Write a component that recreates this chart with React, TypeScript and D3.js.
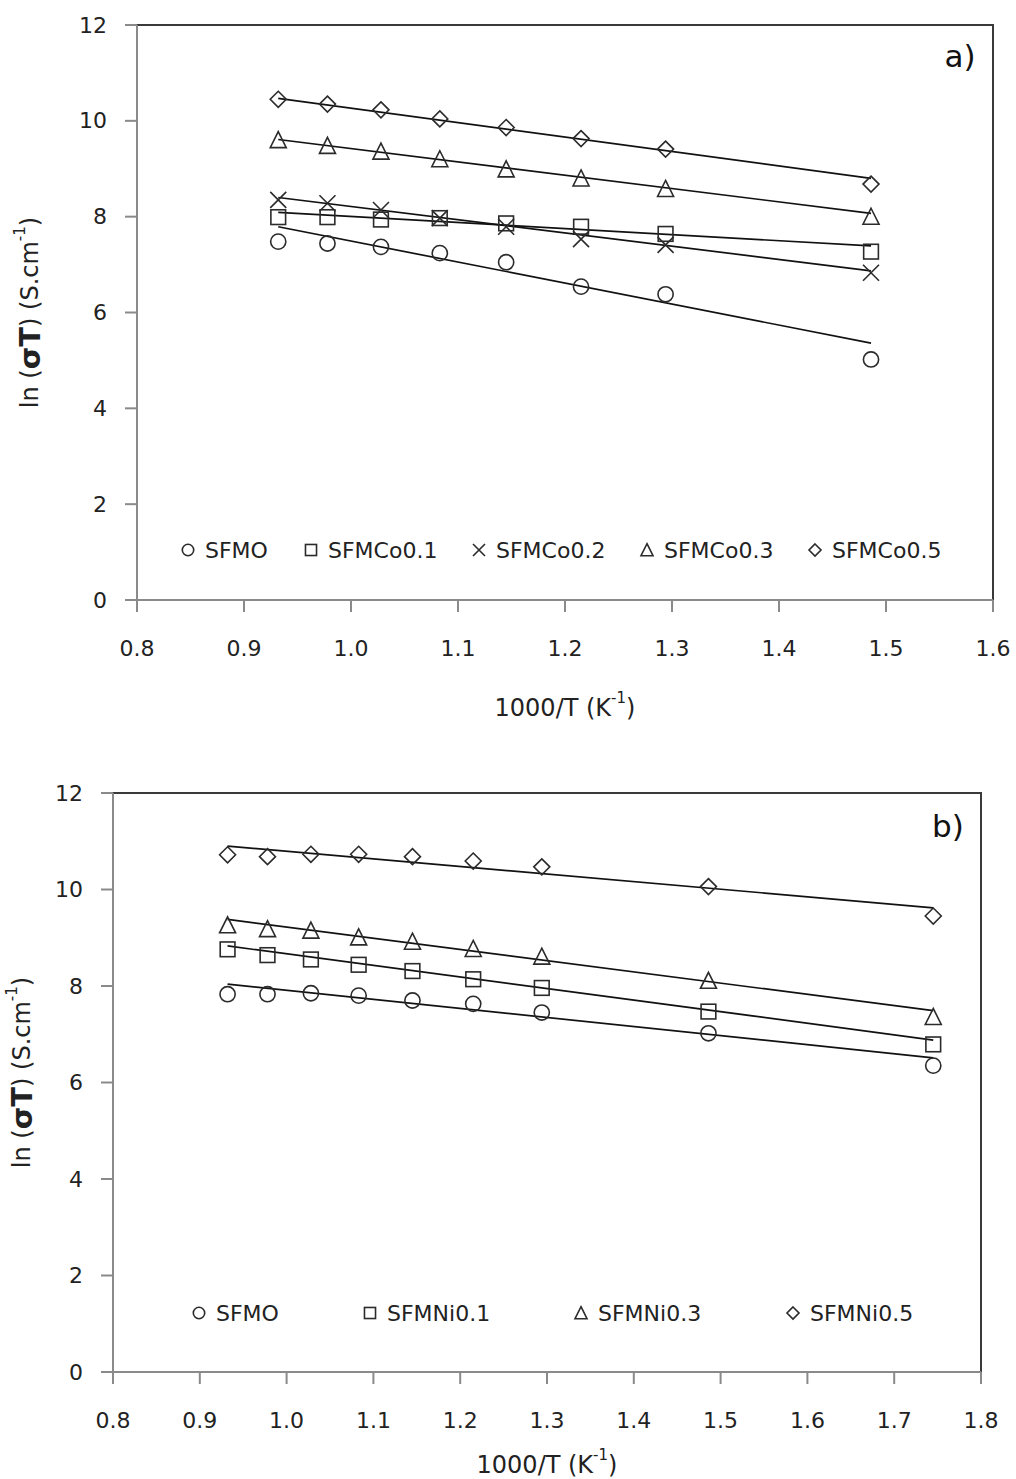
import React from "react";
import * as d3 from "d3";

// ---------- Data: panel a) ----------
const xA = [0.932, 0.978, 1.028, 1.083, 1.145, 1.215, 1.294, 1.486];
const seriesNamesA = ["SFMO", "SFMCo0.1", "SFMCo0.2", "SFMCo0.3", "SFMCo0.5"];
const sfmoA = [7.48, 7.44, 7.37, 7.24, 7.05, 6.54, 6.38, 5.02];
const co01 = [7.99, 7.99, 7.94, 7.97, 7.86, 7.79, 7.64, 7.27];
const co02 = [8.35, 8.28, 8.14, 7.97, 7.79, 7.53, 7.41, 6.83];
const co03 = [9.60, 9.48, 9.36, 9.20, 8.99, 8.80, 8.58, 8.00];
const co05 = [10.45, 10.35, 10.23, 10.04, 9.86, 9.63, 9.41, 8.68];
const fitStartA = [7.79, 8.09, 8.40, 9.61, 10.47];
const fitEndA = [5.36, 7.39, 6.87, 8.07, 8.80];
const markersA = ["circle", "square", "cross", "triangle", "diamond"];
const xTicksA = [0.8, 0.9, 1.0, 1.1, 1.2, 1.3, 1.4, 1.5, 1.6];

// ---------- Data: panel b) ----------
const xB = [0.932, 0.978, 1.028, 1.083, 1.145, 1.215, 1.294, 1.486, 1.745];
const seriesNamesB = ["SFMO", "SFMNi0.1", "SFMNi0.3", "SFMNi0.5"];
const sfmoB = [7.83, 7.83, 7.85, 7.80, 7.70, 7.63, 7.45, 7.02, 6.35];
const ni01 = [8.76, 8.64, 8.55, 8.44, 8.31, 8.14, 7.96, 7.47, 6.79];
const ni03 = [9.26, 9.18, 9.15, 9.01, 8.92, 8.77, 8.61, 8.11, 7.36];
const ni05 = [10.72, 10.68, 10.73, 10.73, 10.68, 10.59, 10.47, 10.06, 9.45];
const fitStartB = [8.04, 8.83, 9.38, 10.90];
const fitEndB = [6.51, 6.88, 7.49, 9.62];
const markersB = ["circle", "square", "triangle", "diamond"];
const xTicksB = [0.8, 0.9, 1.0, 1.1, 1.2, 1.3, 1.4, 1.5, 1.6, 1.7, 1.8];

const yTicks = [0, 2, 4, 6, 8, 10, 12];

const FONT = "'DejaVu Sans', Verdana, sans-serif";
const fmt = d3.format(".1f");

function Marker({ type, x, y, s }: { type: string; x: number; y: number; s: number }) {
  const st = { fill: "none", stroke: "#2b2b2b", strokeWidth: 1.6 } as any;
  if (type === "circle") return <circle cx={x} cy={y} r={s * 0.95} style={st} />;
  if (type === "square")
    return <rect x={x - s * 0.92} y={y - s * 0.92} width={s * 1.84} height={s * 1.84} style={st} />;
  if (type === "diamond")
    return <path d={`M${x},${y - s}L${x + s},${y}L${x},${y + s}L${x - s},${y}Z`} style={st} />;
  if (type === "triangle")
    return (
      <path
        d={`M${x},${y - s * 1.05}L${x + s},${y + s * 0.95}L${x - s},${y + s * 0.95}Z`}
        style={st}
      />
    );
  // cross
  return (
    <path
      d={`M${x - s},${y - s}L${x + s},${y + s}M${x + s},${y - s}L${x - s},${y + s}`}
      style={st}
    />
  );
}

type PanelProps = {
  left: number;
  right: number;
  top: number;
  bottom: number;
  xDomain: [number, number];
  xTicks: number[];
  xs: number[];
  series: number[][];
  fitStart: number[];
  fitEnd: number[];
  markers: string[];
  names: string[];
  legendY: number;
  legendX: number[];
  label: string;
  labelX: number;
  labelY: number;
  xTitleY: number;
  yTitleX: number;
  yTitleDy: number;
};

function Panel(p: PanelProps) {
  const x = d3.scaleLinear().domain(p.xDomain).range([p.left, p.right]);
  const y = d3.scaleLinear().domain([0, 12]).range([p.bottom, p.top]);
  const line = d3
    .line<[number, number]>()
    .x((d) => x(d[0]))
    .y((d) => y(d[1]));
  const x0 = p.xs[0];
  const x1 = p.xs[p.xs.length - 1];
  const midX = (p.left + p.right) / 2;
  const midY = (p.top + p.bottom) / 2 + p.yTitleDy;
  return (
    <g>
      {/* plot frame top/right */}
      <path
        d={`M${p.left},${p.top}H${p.right}V${p.bottom}`}
        fill="none"
        stroke="#3a3a3a"
        strokeWidth={2}
      />
      {/* y axis */}
      <line x1={p.left} x2={p.left} y1={p.top} y2={p.bottom} stroke="#8a8a8a" strokeWidth={2} />
      {yTicks.map((t) => (
        <g key={"y" + t}>
          <line x1={p.left - 12} x2={p.left} y1={y(t)} y2={y(t)} stroke="#8a8a8a" strokeWidth={2} />
          <text
            x={p.left - 30}
            y={y(t)}
            textAnchor="end"
            dominantBaseline="central"
            fontFamily={FONT}
            fontSize={22}
            fill="#222"
          >
            {t}
          </text>
        </g>
      ))}
      {/* x axis */}
      <line x1={p.left} x2={p.right} y1={p.bottom} y2={p.bottom} stroke="#8a8a8a" strokeWidth={2} />
      {p.xTicks.map((t) => (
        <g key={"x" + t}>
          <line x1={x(t)} x2={x(t)} y1={p.bottom} y2={p.bottom + 12} stroke="#8a8a8a" strokeWidth={2} />
          <text
            x={x(t)}
            y={p.bottom + 48}
            textAnchor="middle"
            dominantBaseline="central"
            fontFamily={FONT}
            fontSize={22}
            fill="#222"
          >
            {fmt(t)}
          </text>
        </g>
      ))}
      {/* fit lines */}
      {p.series.map((_, i) => (
        <path
          key={"f" + i}
          d={line([
            [x0, p.fitStart[i]],
            [x1, p.fitEnd[i]],
          ]) || ""}
          fill="none"
          stroke="#111"
          strokeWidth={1.7}
        />
      ))}
      {/* markers */}
      {p.series.map((s, i) =>
        s.map((v, j) => <Marker key={`m${i}-${j}`} type={p.markers[i]} x={x(p.xs[j])} y={y(v)} s={8} />)
      )}
      {/* legend */}
      {p.names.map((n, i) => (
        <g key={"l" + i}>
          <Marker type={p.markers[i]} x={p.legendX[i] - 17} y={p.legendY} s={6} />
          <text
            x={p.legendX[i]}
            y={p.legendY}
            dominantBaseline="central"
            fontFamily={FONT}
            fontSize={22}
            fill="#222"
          >
            {n}
          </text>
        </g>
      ))}
      {/* panel label */}
      <text
        x={p.labelX}
        y={p.labelY}
        textAnchor="middle"
        dominantBaseline="central"
        fontFamily={FONT}
        fontSize={31}
        fill="#111"
      >
        {p.label}
      </text>
      {/* x title */}
      <text
        x={midX}
        y={p.xTitleY}
        textAnchor="middle"
        dominantBaseline="central"
        fontFamily={FONT}
        fontSize={24}
        fill="#222"
      >
        1000/T (K
        <tspan fontSize={15} dy={-10}>
          -1
        </tspan>
        <tspan dy={10}>)</tspan>
      </text>
      {/* y title */}
      <text
        transform={`translate(${p.yTitleX},${midY}) rotate(-90)`}
        textAnchor="middle"
        dominantBaseline="central"
        fontFamily={FONT}
        fontSize={24}
        fill="#222"
      >
        ln (
        <tspan fontWeight="bold" fontSize={29}>
          σT
        </tspan>
        ) (S.cm
        <tspan fontSize={15} dy={-10}>
          -1
        </tspan>
        <tspan dy={10}>)</tspan>
      </text>
    </g>
  );
}

export default function App() {
  return (
    <svg
      width={1016}
      height={1479}
      style={{ position: "absolute", left: 0, top: 0, background: "#fff" }}
    >
      <rect width={1016} height={1479} fill="#fff" />
      <Panel
        left={137}
        right={993}
        top={25}
        bottom={600}
        xDomain={[0.8, 1.6]}
        xTicks={xTicksA}
        xs={xA}
        series={[sfmoA, co01, co02, co03, co05]}
        fitStart={fitStartA}
        fitEnd={fitEndA}
        markers={markersA}
        names={seriesNamesA}
        legendY={550}
        legendX={[205, 328, 496, 664, 832]}
        label="a)"
        labelX={960}
        labelY={56}
        xTitleY={708}
        yTitleX={30}
        yTitleDy={0}
      />
      <Panel
        left={113}
        right={981}
        top={793}
        bottom={1372}
        xDomain={[0.8, 1.8]}
        xTicks={xTicksB}
        xs={xB}
        series={[sfmoB, ni01, ni03, ni05]}
        fitStart={fitStartB}
        fitEnd={fitEndB}
        markers={markersB}
        names={seriesNamesB}
        legendY={1313}
        legendX={[216, 387, 598, 810]}
        label="b)"
        labelX={948}
        labelY={826}
        xTitleY={1465}
        yTitleX={22}
        yTitleDy={-10}
      />
    </svg>
  );
}
